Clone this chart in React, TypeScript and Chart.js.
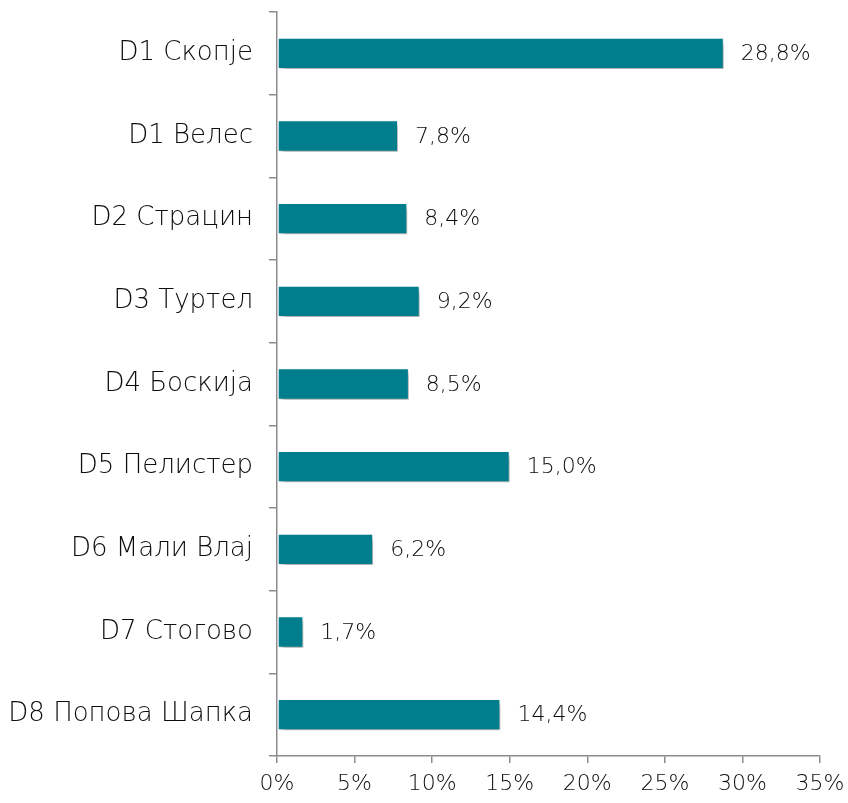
import React, { useEffect, useRef } from "react";
import { Chart, registerables } from "chart.js";

Chart.register(...registerables);

const categories = [
  "D1 Скопје",
  "D1 Велес",
  "D2 Страцин",
  "D3 Туртел",
  "D4 Боскија",
  "D5 Пелистер",
  "D6 Мали Влај",
  "D7 Стогово",
  "D8 Попова Шапка",
];
const values = [28.8, 7.8, 8.4, 9.2, 8.5, 15.0, 6.2, 1.7, 14.4];
const xTicks = [0, 5, 10, 15, 20, 25, 30, 35];

const FONT = "'DejaVu Sans', sans-serif";
const BAR_COLOR = "#007E8D";
const TEXT_COLOR = "#0d0d0d";

export default function App() {
  const ref = useRef<HTMLCanvasElement | null>(null);
  useEffect(() => {
    document.body.style.margin = "0";
    const canvas = ref.current!;
    const shadowPlugin = {
      id: "shadow",
      beforeDatasetsDraw(chart: any) {
        const ctx = chart.ctx;
        ctx.save();
        ctx.shadowColor = "rgba(0,0,0,0.35)";
        ctx.shadowOffsetX = 3;
        ctx.shadowOffsetY = 4;
        ctx.shadowBlur = 5;
      },
      afterDatasetsDraw(chart: any) {
        chart.ctx.restore();
        const ctx = chart.ctx;
        const meta = chart.getDatasetMeta(0);
        ctx.save();
        ctx.font = `300 22px ${FONT}`;
        ctx.fillStyle = TEXT_COLOR;
        ctx.textAlign = "left";
        ctx.textBaseline = "middle";
        meta.data.forEach((bar: any, i: number) => {
          const label = values[i].toFixed(1).replace(".", ",") + "%";
          ctx.fillText(label, bar.x + 17, bar.y + 1);
        });
        ctx.restore();
      },
    };
    const chart = new Chart(canvas, {
      type: "bar",
      data: {
        labels: categories,
        datasets: [
          {
            data: values,
            backgroundColor: BAR_COLOR,
            borderColor: "rgba(255,255,255,0.85)",
            borderWidth: 1,
            borderSkipped: false,
            barPercentage: 0.38,
            categoryPercentage: 1,
          },
        ],
      },
      options: {
        indexAxis: "y",
        animation: false,
        responsive: false,
        maintainAspectRatio: false,
        layout: { padding: { top: 12, right: 28, left: 0, bottom: 0 } },
        plugins: {
          legend: { display: false },
          tooltip: { enabled: false },
        },
        scales: {
          x: {
            min: 0,
            max: 35,
            afterBuildTicks: (scale: any) => {
              scale.ticks = xTicks.map((v) => ({ value: v }));
            },
            afterFit: (scale: any) => {
              scale.height = 47;
              scale.paddingRight = 0;
              scale.paddingLeft = 0;
            },
            grid: {
              drawOnChartArea: false,
              drawTicks: true,
              tickLength: 7,
              color: "#8c8c8c",
              lineWidth: 1.5,
            },
            border: { display: true, color: "#8c8c8c", width: 1.5 },
            ticks: {
              color: TEXT_COLOR,
              font: { family: FONT, size: 22, weight: 300 },
              padding: 8,
              maxRotation: 0,
              callback: (v: any) => `${v}%`,
            },
          },
          y: {
            afterFit: (scale: any) => {
              scale.width = 277;
              scale.paddingTop = 0;
              scale.paddingBottom = 0;
            },
            grid: {
              drawOnChartArea: false,
              drawTicks: true,
              tickLength: 8,
              offset: true,
              color: "#8c8c8c",
              lineWidth: 1.5,
            },
            border: { display: true, color: "#8c8c8c", width: 1.5 },
            ticks: {
              color: TEXT_COLOR,
              font: { family: FONT, size: 26, weight: 300 },
              padding: 16,
            },
          },
        },
      },
      plugins: [shadowPlugin],
    });
    return () => chart.destroy();
  }, []);
  return (
    <div style={{ position: "relative", width: 848, height: 803 }}>
      <canvas ref={ref} width={848} height={803} style={{ display: "block" }} />
    </div>
  );
}
